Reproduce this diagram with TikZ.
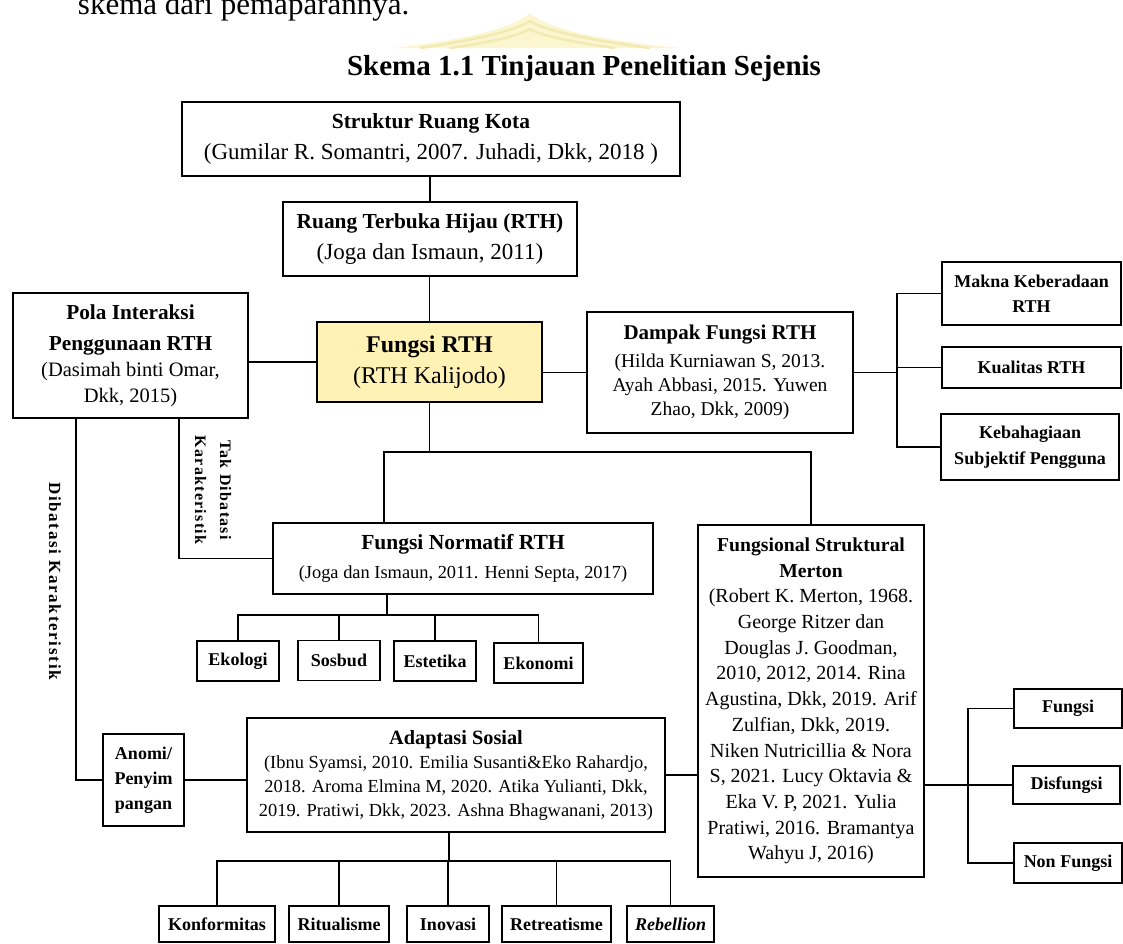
\documentclass[tikz,border=0pt]{standalone}
\usepackage{fontspec}
\setmainfont{Liberation Serif}
\newfontfamily\lsA[LetterSpace=8]{Liberation Serif}
\newfontfamily\lsB[LetterSpace=10]{Liberation Serif}
\definecolor{fyellow}{RGB}{255,242,180}
\definecolor{wmA}{RGB}{250,246,208}
\definecolor{wmB}{RGB}{242,234,178}
\newcommand{\fsz}[2]{\fontsize{#1}{#2}\selectfont}
\newcommand{\Bt}[2]{{\fontsize{#1}{#1}\selectfont\bfseries #2}}
\newcommand{\Nt}[2]{{\fontsize{#1}{#1}\selectfont #2}}
\begin{document}
\begin{tikzpicture}[x=1pt,y=-1pt,line width=1.9pt,
  box/.style 2 args={draw,rectangle,inner sep=0pt,align=center,minimum width=#1,minimum height=#2},
  leaf/.style={box={#1}{40pt},font=\fsz{18}{22}\bfseries}
]
\useasboundingbox (0,0) rectangle (1123,943);
% watermark
\fill[wmA] (394,48) .. controls (460,40) and (510,30) .. (530,13) .. controls (550,30) and (600,40) .. (680,48) -- cycle;
\draw[wmB,line width=2.5pt] (420,48) .. controls (475,40) and (515,31) .. (530,21) .. controls (545,31) and (590,40) .. (650,48);
\draw[wmB,line width=2.5pt] (450,48) .. controls (492,42) and (518,36) .. (530,29) .. controls (542,36) and (572,42) .. (615,48);
% page text
\node[anchor=base west,inner sep=0pt,font=\fsz{31}{31}] (pg) at (77,14) {skema dari pemaparannya.};
\node[anchor=base,inner sep=0pt,font=\fsz{29}{29}\bfseries] (ttl) at (584,75) {Skema 1.1 Tinjauan Penelitian Sejenis};

% main boxes
\node[box={498pt}{74pt},font=\fsz{22}{31}] (struk) at (431,139)
  {\Bt{21.5}{Struktur Ruang Kota}\\\Nt{23}{(Gumilar R. Somantri, 2007. Juhadi, Dkk, 2018 )}};
\node[box={294pt}{74pt},font=\fsz{22}{31}] (rth) at (430,239)
  {\Bt{21.4}{Ruang Terbuka Hijau (RTH)}\\\Nt{23}{(Joga dan Ismaun, 2011)}};
\node[box={225pt}{80pt},fill=fyellow,font=\fsz{24}{31}] (fungsi) at (429.5,362)
  {\Bt{24}{Fungsi RTH}\\\Nt{24}{(RTH Kalijodo)}};
\node[box={266pt}{121pt},font=\fsz{20}{24}] (dampak) at (720,372.5)
  {\Bt{21}{Dampak Fungsi RTH}\\[4pt]\Nt{19.5}{(Hilda Kurniawan S, 2013.}\\\Nt{19.5}{Ayah Abbasi, 2015. Yuwen}\\\Nt{19.5}{Zhao, Dkk, 2009)}};
\node[box={235pt}{125pt},font=\fsz{20}{26}] (pola) at (130.5,355.5)
  {\Bt{21.3}{Pola Interaksi}\\[5pt]\Bt{21.3}{Penggunaan RTH}\\\Nt{20.5}{(Dasimah binti Omar,}\\\Nt{20.5}{Dkk, 2015)}};
\node[box={179pt}{63pt},font=\fsz{18}{25}\bfseries] (makna) at (1031.5,293.5) {Makna Keberadaan\\RTH};
\node[box={179pt}{41pt},font=\fsz{18}{25}\bfseries] (kual) at (1031.5,367.5) {Kualitas RTH};
\node[box={178pt}{66pt},font=\fsz{18}{26}\bfseries] (keb) at (1030,447) {Kebahagiaan\\Subjektif Pengguna};
\node[box={380pt}{71pt},font=\fsz{20}{29}] (norm) at (463,558.5)
  {\Bt{21.5}{Fungsi Normatif RTH}\\\Nt{18.4}{(Joga dan Ismaun, 2011. Henni Septa, 2017)}};
\node[leaf=82pt] (ekol) at (238,661) {Ekologi};
\node[leaf=82pt] (sosb) at (339,660.5) {Sosbud};
\node[leaf=82pt] (este) at (435,661) {Estetika};
\node[leaf=89pt] (ekon) at (538.5,663) {Ekonomi};
\node[box={226pt}{352pt},font=\fsz{20}{25.7}] (merton) at (811,701)
  {\Bt{19.7}{Fungsional Struktural}\\\Bt{19.7}{Merton}\\
   (Robert K. Merton, 1968.\\George Ritzer dan\\Douglas J. Goodman,\\2010, 2012, 2014. Rina\\Agustina, Dkk, 2019. Arif\\Zulfian, Dkk, 2019.\\Niken Nutricillia \& Nora\\S, 2021. Lucy Oktavia \&\\Eka V. P, 2021. Yulia\\Pratiwi, 2016. Bramantya\\Wahyu J, 2016)};
\node[box={418pt}{114pt},font=\fsz{18.4}{24}] (adapt) at (456,775)
  {\Bt{20.3}{Adaptasi Sosial}\\(Ibnu Syamsi, 2010. Emilia Susanti\&Eko Rahardjo,\\2018. Aroma Elmina M, 2020. Atika Yulianti, Dkk,\\2019. Pratiwi, Dkk, 2023. Ashna Bhagwanani, 2013)};
\node[box={81pt}{92pt},font=\fsz{18}{25}\bfseries] (anomi) at (143.5,780) {Anomi/\\Penyim\\pangan};
\node[box={108pt}{39pt},font=\fsz{18}{22}\bfseries] (fs) at (1068,708.5) {Fungsi};
\node[box={107pt}{38pt},font=\fsz{18}{22}\bfseries] (disf) at (1066.5,785) {Disfungsi};
\node[box={108pt}{40pt},font=\fsz{18}{22}\bfseries] (nonf) at (1068,863) {Non Fungsi};
\node[box={116pt}{36pt},font=\fsz{18}{22}\bfseries] (konf) at (217,924) {Konformitas};
\node[box={100pt}{36pt},font=\fsz{18}{22}\bfseries] (ritu) at (339,924) {Ritualisme};
\node[box={82pt}{36pt},font=\fsz{18}{22}\bfseries] (inov) at (448,924) {Inovasi};
\node[box={109pt}{36pt},font=\fsz{18}{22}\bfseries] (retr) at (556.5,924) {Retreatisme};
\node[box={87pt}{36pt},font=\fsz{18}{22}\bfseries\itshape] (rebe) at (670.5,924) {Rebellion};

% rotated labels
\node[rotate=-90,align=center,inner sep=0pt,font=\fsz{16}{25}\lsA\bfseries] (lblTak) at (213,490) {Tak Dibatasi\\Karakteristik};
\node[rotate=-90,inner sep=0pt,font=\fsz{17}{20}\lsB\bfseries] (lblDib) at (55,581) {Dibatasi Karakteristik};

% junction coordinates
\coordinate (bR) at (897,369);
\coordinate (j1) at (430,452);
\coordinate (jn) at (387,615);
\coordinate (ja) at (449,861);
\coordinate (bM) at (968,785);

% connectors
\draw (rth.north) -- (rth.north |- struk.south);
\draw (fungsi.north) -- (fungsi.north |- rth.south);
\draw (fungsi.west) -- (fungsi.west -| pola.east);
\draw (dampak.west) -- (dampak.west -| fungsi.east);
\draw (dampak.east) -- (dampak.east -| bR);
\draw (makna.west) -- (makna.west -| bR) -- (keb.west -| bR) -- (keb.west);
\draw (kual.west) -- (kual.west -| bR);
\draw (fungsi.south) -- (fungsi.south |- j1);
\draw ([xshift=-79pt]norm.north) |- (merton.north |- j1) -- (merton.north);
\draw ([xshift=48.5pt]pola.south) |- (norm.west);
\draw ([xshift=-54.5pt]pola.south) |- (anomi.west);
\draw (anomi.east) -- (anomi.east -| adapt.west);
\draw (adapt.east) -- (adapt.east -| merton.west);
\draw ([xshift=-76pt]norm.south) -- ([xshift=-76pt]norm.south |- jn);
\draw (ekol.north) -- (ekol.north |- jn) -- (ekon.north |- jn) -- (ekon.north);
\draw (sosb.north) -- (sosb.north |- jn);
\draw (este.north) -- (este.north |- jn);
\draw (ja |- adapt.south) -- (ja);
\draw (konf.north) -- (konf.north |- ja) -- (rebe.north |- ja) -- (rebe.north);
\draw (ritu.north) -- (ritu.north |- ja);
\draw (inov.north) -- (inov.north |- ja);
\draw (retr.north) -- (retr.north |- ja);
\draw (disf.west) -- (disf.west -| merton.east);
\draw (fs.west) -- (fs.west -| bM) -- (nonf.west -| bM) -- (nonf.west);
\end{tikzpicture}
\end{document}
